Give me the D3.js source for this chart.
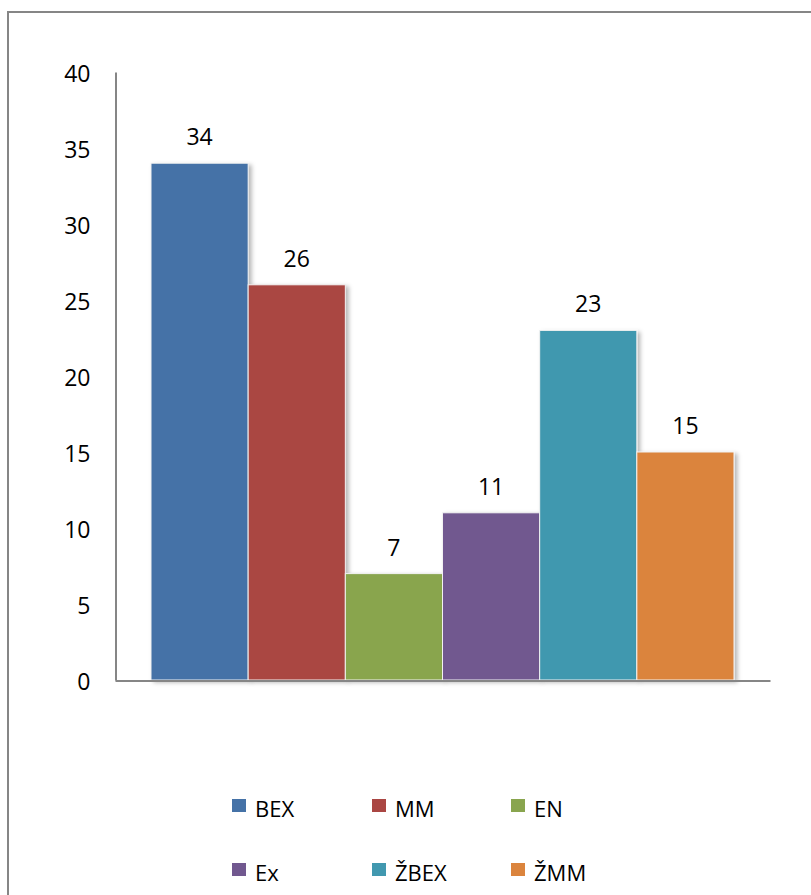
<!DOCTYPE html>
<html>
<head>
<meta charset="utf-8">
<script src="https://cdn.jsdelivr.net/npm/d3@7"></script>
<style>
  html, body { margin: 0; padding: 0; background: #fff; }
  svg { display: block; }
  text { font-family: "Open Sans", "Liberation Sans", sans-serif; fill: #000; }
</style>
</head>
<body>
<svg id="chart" width="811" height="895"></svg>
<script>
const series = ["BEX", "MM", "EN", "Ex", "ŽBEX", "ŽMM"];
const values = [34, 26, 7, 11, 23, 15];
const colors = ["#4572A7", "#AA4643", "#89A54E", "#71588F", "#4198AF", "#DB843D"];
const yTicks = [0, 5, 10, 15, 20, 25, 30, 35, 40];

const svg = d3.select("#chart");

// outer frame
svg.append("rect")
  .attr("x", 8).attr("y", 12)
  .attr("width", 820).attr("height", 900)
  .attr("fill", "none").attr("stroke", "#868686").attr("stroke-width", 2);

const defs = svg.append("defs");
const f = defs.append("filter").attr("id", "shadow")
  .attr("x", "-10%").attr("y", "-10%").attr("width", "130%").attr("height", "130%");
f.append("feDropShadow").attr("dx", 3).attr("dy", 2).attr("stdDeviation", 2)
  .attr("flood-color", "#000").attr("flood-opacity", 0.28);

const y = d3.scaleLinear().domain([0, 40]).range([680, 72]);
const x = d3.scaleBand().domain(series).range([151, 734]).padding(0);

// bars
svg.append("g").selectAll("rect")
  .data(series)
  .join("rect")
  .attr("x", d => x(d))
  .attr("y", (d, i) => y(values[i]))
  .attr("width", x.bandwidth())
  .attr("height", (d, i) => y(0) - y(values[i]))
  .attr("fill", (d, i) => colors[i])
  .attr("stroke", "#f2f2f2")
  .attr("stroke-width", 1)
  .attr("filter", "url(#shadow)");

// value labels
svg.append("g").selectAll("text")
  .data(series)
  .join("text")
  .attr("x", d => x(d) + x.bandwidth() / 2)
  .attr("y", (d, i) => y(values[i]) - 18)
  .attr("text-anchor", "middle")
  .attr("font-size", 23)
  .text((d, i) => values[i]);

// y axis
const yAxis = d3.axisLeft(y).tickValues(yTicks).tickSize(0).tickPadding(25);
const gy = svg.append("g").attr("transform", "translate(115.5,0)").call(yAxis);
gy.select(".domain").attr("stroke", "#868686").attr("stroke-width", 2);
gy.selectAll("text")
  .attr("font-size", 23)
  .attr("font-family", "'Open Sans', sans-serif")
  .attr("fill", "#000")
  .attr("dy", "0.4em");

// x axis line
const xAxis = d3.axisBottom(d3.scaleLinear().domain([0, 1]).range([115, 770])).ticks(0).tickSize(0).tickFormat("");
const gx = svg.append("g").attr("transform", "translate(0,680.5)").call(xAxis);
gx.select(".domain").attr("stroke", "#868686").attr("stroke-width", 2);

// legend
const legX = [232, 372, 511];
const legY = [799, 863];
const lg = svg.append("g").selectAll("g")
  .data(series)
  .join("g")
  .attr("transform", (d, i) => `translate(${legX[i % 3]},${legY[Math.floor(i / 3)]})`);
lg.append("rect")
  .attr("width", 14).attr("height", 13)
  .attr("fill", (d, i) => colors[i]);
lg.append("text")
  .attr("x", 23).attr("y", 18)
  .attr("font-size", 22)
  .text(d => d);
</script>
</body>
</html>
